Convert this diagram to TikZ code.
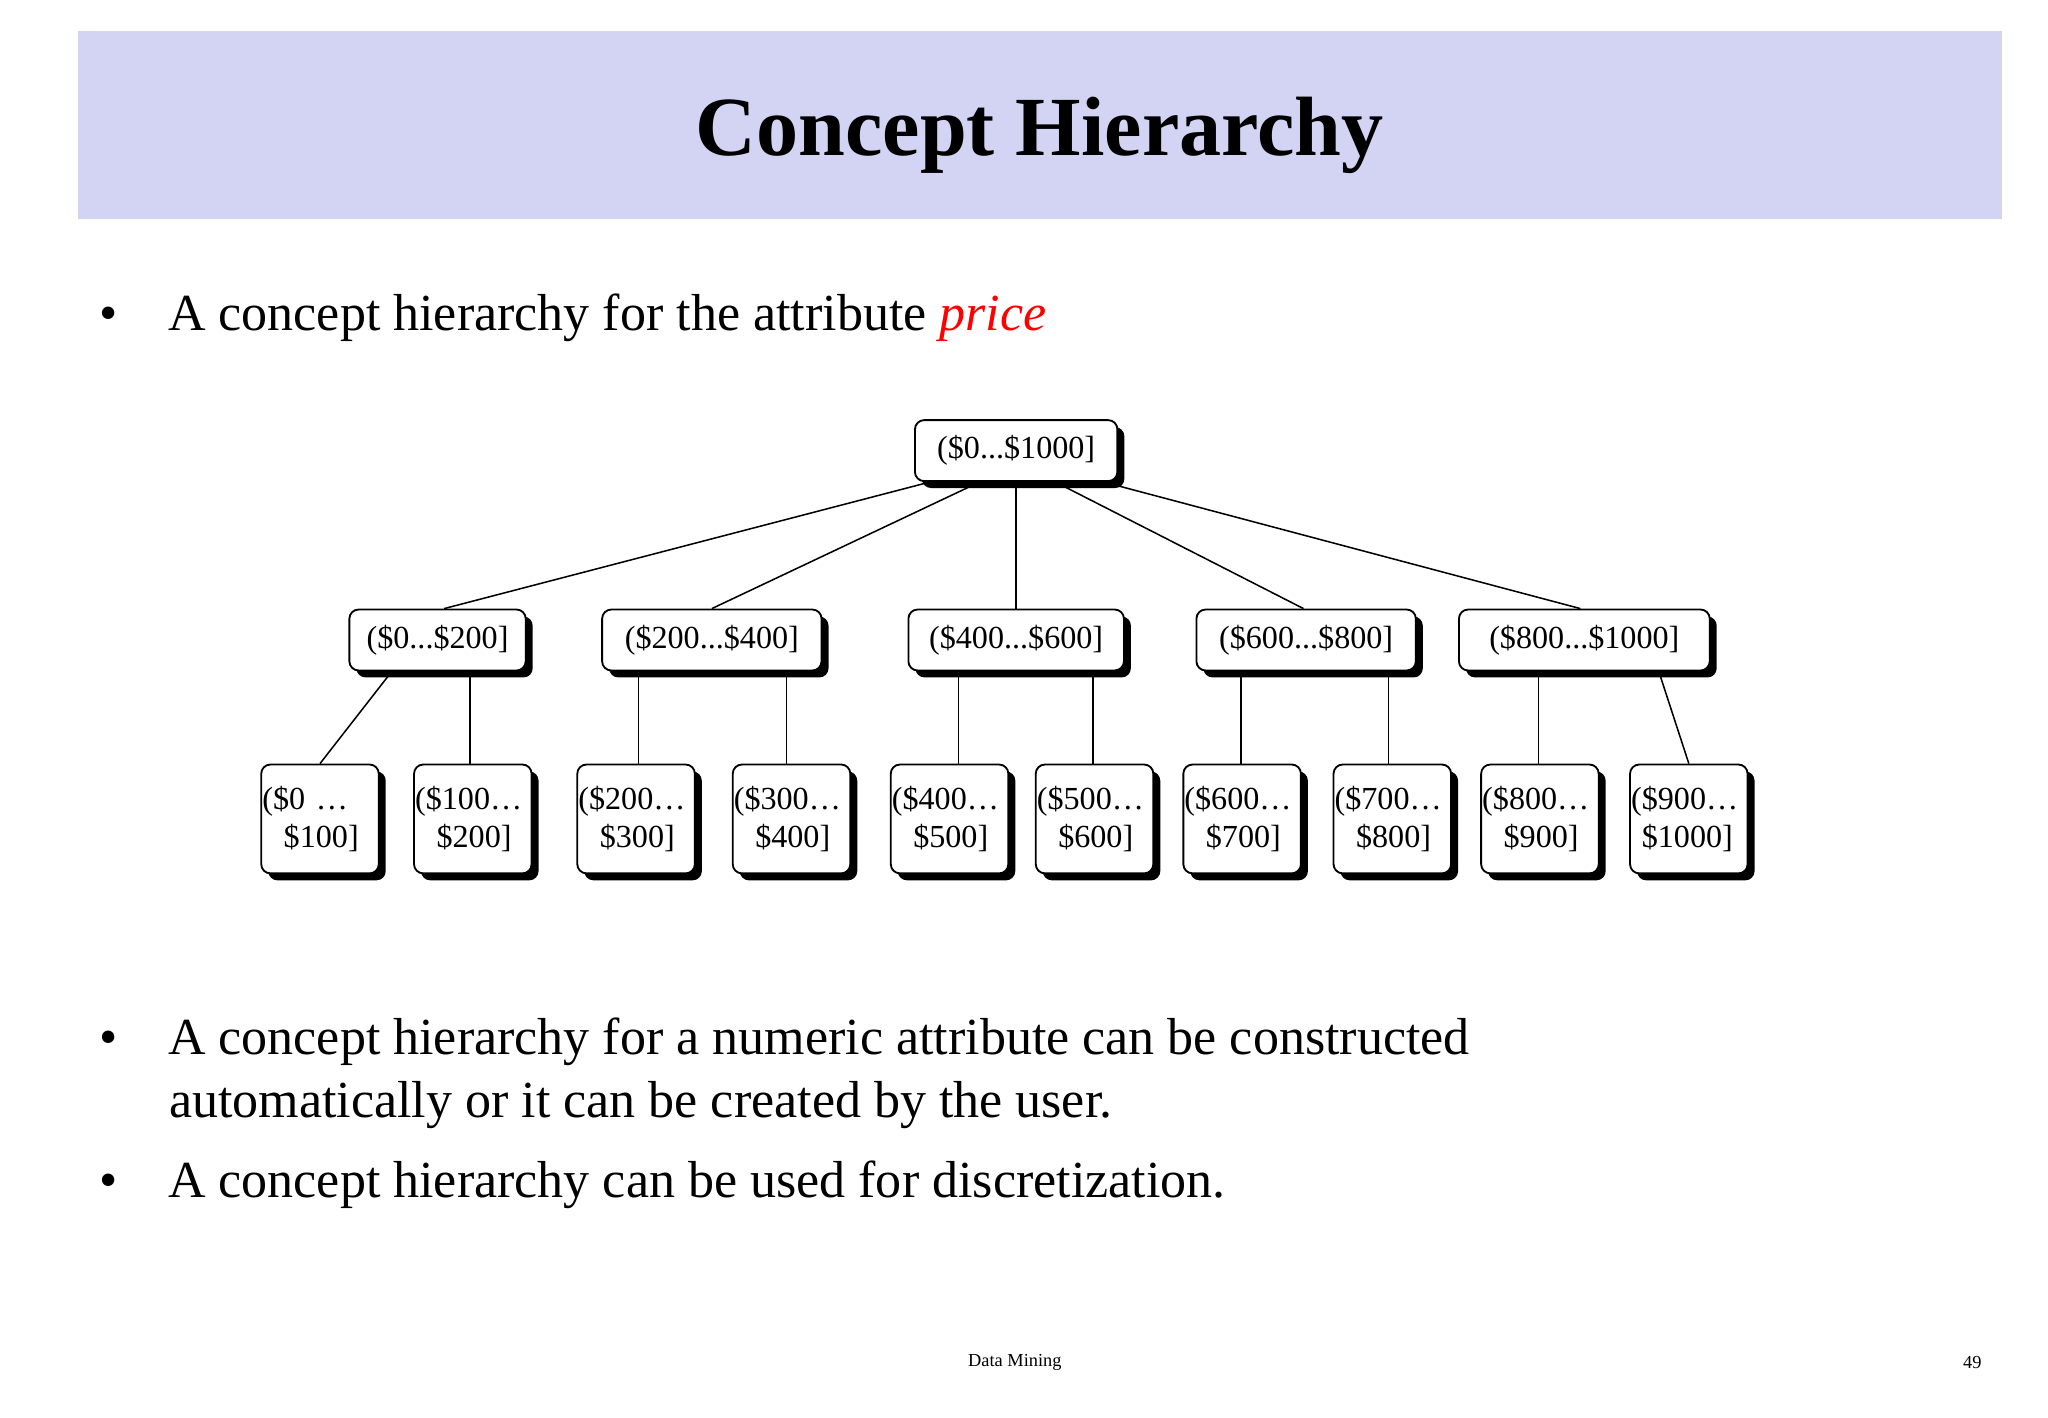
\documentclass[tikz,border=0pt]{standalone}
\usepackage{fontspec}
\setmainfont{Liberation Serif}
\usetikzlibrary{shadows,calc}
\begin{document}
\begin{tikzpicture}[x=0.3mm,y=-0.3mm,
  box/.style={draw=black,line width=1.2pt,fill=white,rounded corners=6pt,
    drop shadow={shadow xshift=1.6mm,shadow yshift=-1.6mm,opacity=1,fill=black},
    font=\fontsize{21}{25}\selectfont,inner sep=1pt,align=left},
  top/.style={box,minimum width=#1*0.3mm,minimum height=14mm},
  leaf/.style={box,minimum width=27mm,minimum height=25mm,text width=26.5mm,inner sep=0.3pt},
  edge/.style={line width=1pt},
  body/.style={anchor=west,font=\fontsize{34}{41}\selectfont,align=left}]
\useasboundingbox (0,0) rectangle (1568,1085);
\fill[white] (0,0) rectangle (1568,1085);
\fill[fill={rgb,255:red,211;green,211;blue,243}] (60,24) rectangle (1533,168);
\node[font=\fontsize{55}{60}\selectfont\bfseries] (title) at (796,104) {Concept Hierarchy};
\node[body] (b1) at (72,243) {•\hspace{33pt}A concept hierarchy for the attribute \textcolor{red}{\itshape price}};
\node[top=155] (r) at (778,345) {(\$0...\$1000]};
\node[top=135] (a1) at (335,490) {(\$0...\$200]};
\node[top=168] (a2) at (545,490) {(\$200...\$400]};
\node[top=165] (a3) at (778,490) {(\$400...\$600]};
\node[top=168] (a4) at (1000,490) {(\$600...\$800]};
\node[top=192] (a5) at (1213,490) {(\$800...\$1000]};
\foreach \n/\x/\t/\b in {1/245/{(\$0 …}/{\ \ \$100]},2/362/{(\$100…}/{\ \ \$200]},3/487/{(\$200…}/{\ \ \$300]},4/606/{(\$300…}/{\ \ \$400]},5/727/{(\$400…}/{\ \ \$500]},6/838/{(\$500…}/{\ \ \$600]},7/951/{(\$600…}/{\ \ \$700]},8/1066/{(\$700…}/{\ \ \$800]},9/1179/{(\$800…}/{\ \ \$900]},10/1293/{(\$900…}/{\ \$1000]}}
  \node[leaf] (c\n) at (\x,627) {\t\\\b};
\draw[edge] ([xshift=-66*0.3mm]r.south) -- ([xshift=5*0.3mm]a1.north);
\draw[edge] ([xshift=-28*0.3mm]r.south) -- (a2.north);
\draw[edge] (r.south) -- (a3.north);
\draw[edge] ([xshift=30*0.3mm]r.south) -- ([xshift=-2*0.3mm]a4.north);
\draw[edge] ([xshift=67*0.3mm]r.south) -- ([xshift=-3*0.3mm]a5.north);
\draw[edge] ([xshift=-35*0.3mm]a1.south) -- (c1.north);
\draw[edge] ([xshift=25*0.3mm]a1.south) -- ([xshift=-2*0.3mm]c2.north);
\draw[edge] ([xshift=-56*0.3mm]a2.south) -- ([xshift=2*0.3mm]c3.north);
\draw[edge] ([xshift=57*0.3mm]a2.south) -- ([xshift=-4*0.3mm]c4.north);
\draw[edge] ([xshift=-44*0.3mm]a3.south) -- ([xshift=7*0.3mm]c5.north);
\draw[edge] ([xshift=59*0.3mm]a3.south) -- ([xshift=-1*0.3mm]c6.north);
\draw[edge] ([xshift=-50*0.3mm]a4.south) -- ([xshift=-1*0.3mm]c7.north);
\draw[edge] ([xshift=63*0.3mm]a4.south) -- ([xshift=-3*0.3mm]c8.north);
\draw[edge] ([xshift=-35*0.3mm]a5.south) -- ([xshift=-1*0.3mm]c9.north);
\draw[edge] ([xshift=57*0.3mm]a5.south) -- (c10.north);
\node[body] (b2) at (72,822) {•\hspace{33pt}A concept hierarchy for a numeric attribute can be constructed\\\hspace{45.5pt}automatically or it can be created by the user.};
\node[body] (b3) at (72,907) {•\hspace{33pt}A concept hierarchy can be used for discretization.};
\node[font=\fontsize{12}{14}\selectfont] (f) at (777,1043) {Data Mining};
\node[font=\fontsize{12}{14}\selectfont] (p) at (1510,1043) {49};
\end{tikzpicture}
\end{document}
